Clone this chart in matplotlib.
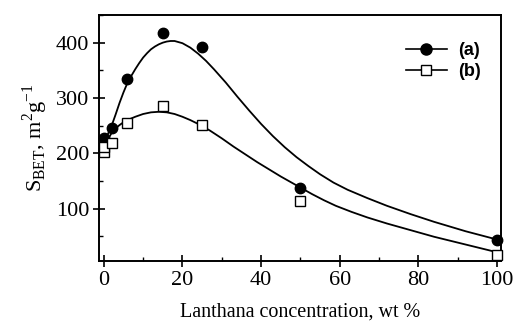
import matplotlib
matplotlib.use("Agg")
import matplotlib.pyplot as plt
from matplotlib.lines import Line2D
from matplotlib.ticker import MultipleLocator

# measured points
x_a = [0, 2, 6, 15, 25, 50, 100]
y_a = [227, 246, 334, 417, 393, 138, 43]
x_b = [0, 0, 2, 6, 15, 25, 50, 100]
y_b = [202, 212, 219, 255, 285, 252, 113, 16]

# fitted curves
fit_x_a = [0, 1, 2, 3, 4, 5, 6, 7, 8, 9, 10, 11, 12, 13, 14, 15, 16, 17, 18,
           19, 20, 22, 24, 26, 28, 31, 34, 37, 40, 43, 46, 49, 52, 55, 58.4,
           62, 67, 72, 78, 84, 92, 100]
fit_y_a = [222, 234, 250, 270, 291, 310, 327, 340, 352, 363, 373, 381, 388,
           393, 397, 400, 402, 403, 403, 401, 399, 391, 380, 367, 352, 328,
           302, 277, 253, 231, 211, 193, 177, 162, 147, 134, 119, 105, 90, 76,
           59, 44]
fit_x_b = [0, 1, 2, 3, 4, 5, 6, 8, 10, 12, 14, 16, 18, 20, 22, 24, 27, 30,
           33, 36, 39, 42, 45, 48, 50, 53, 56, 59, 63, 67, 72, 78, 84, 92, 100]
fit_y_b = [205, 224, 237, 245, 251, 256, 260, 266, 271, 274, 275, 274, 271,
           266, 260, 253, 241, 227, 212, 198, 184, 171, 158, 146, 138, 126,
           115, 105, 94, 84, 73, 61, 49, 35, 21]

plt.rcParams['font.family'] = ['Liberation Serif', 'DejaVu Serif']
plt.rcParams['mathtext.fontset'] = 'custom'
plt.rcParams['mathtext.rm'] = 'Liberation Serif'

fig = plt.figure(figsize=(5.16, 3.26), dpi=100)
ax = fig.add_axes([0.192, 0.199, 0.779, 0.755])

ax.plot(fit_x_a, fit_y_a, color='black', lw=1.3)
ax.plot(fit_x_b, fit_y_b, color='black', lw=1.3)
ax.plot(x_a, y_a, 'o', color='black', ms=7.5, clip_on=False, zorder=3)
ax.plot(x_b, y_b, 's', mfc='white', mec='black', mew=1.0, ms=7,
        clip_on=False, zorder=3)

ax.set_xlim(-1.2, 101)
ax.set_ylim(5, 450)
ax.xaxis.set_major_locator(MultipleLocator(20))
ax.xaxis.set_minor_locator(MultipleLocator(10))
ax.yaxis.set_major_locator(MultipleLocator(100))
ax.yaxis.set_minor_locator(MultipleLocator(50))
ax.set_yticks([100, 200, 300, 400])
ax.tick_params(which='major', direction='inout', length=8, width=1.2,
               labelsize=16, pad=3)
ax.tick_params(which='minor', direction='in', length=3, width=1.0)
for s in ax.spines.values():
    s.set_linewidth(1.4)

ax.set_xlabel('Lanthana concentration, wt %', fontsize=14.5, labelpad=9)
ax.set_ylabel(r'S$_{\rm BET}$, m$^2$g$^{-1}$', fontsize=16, labelpad=4)

handles = [
    Line2D([], [], color='black', lw=1.2, marker='o', ms=8),
    Line2D([], [], color='black', lw=1.2, marker='s', mfc='white', ms=7),
]
ax.legend(handles, ['(a)', '(b)'], loc='upper right',
          bbox_to_anchor=(0.99, 0.955), frameon=False, handlelength=2.3,
          handletextpad=0.6, labelspacing=0.2,
          prop={'family': 'Liberation Sans', 'weight': 'bold', 'size': 13})

fig.savefig('out.png', dpi=100)
